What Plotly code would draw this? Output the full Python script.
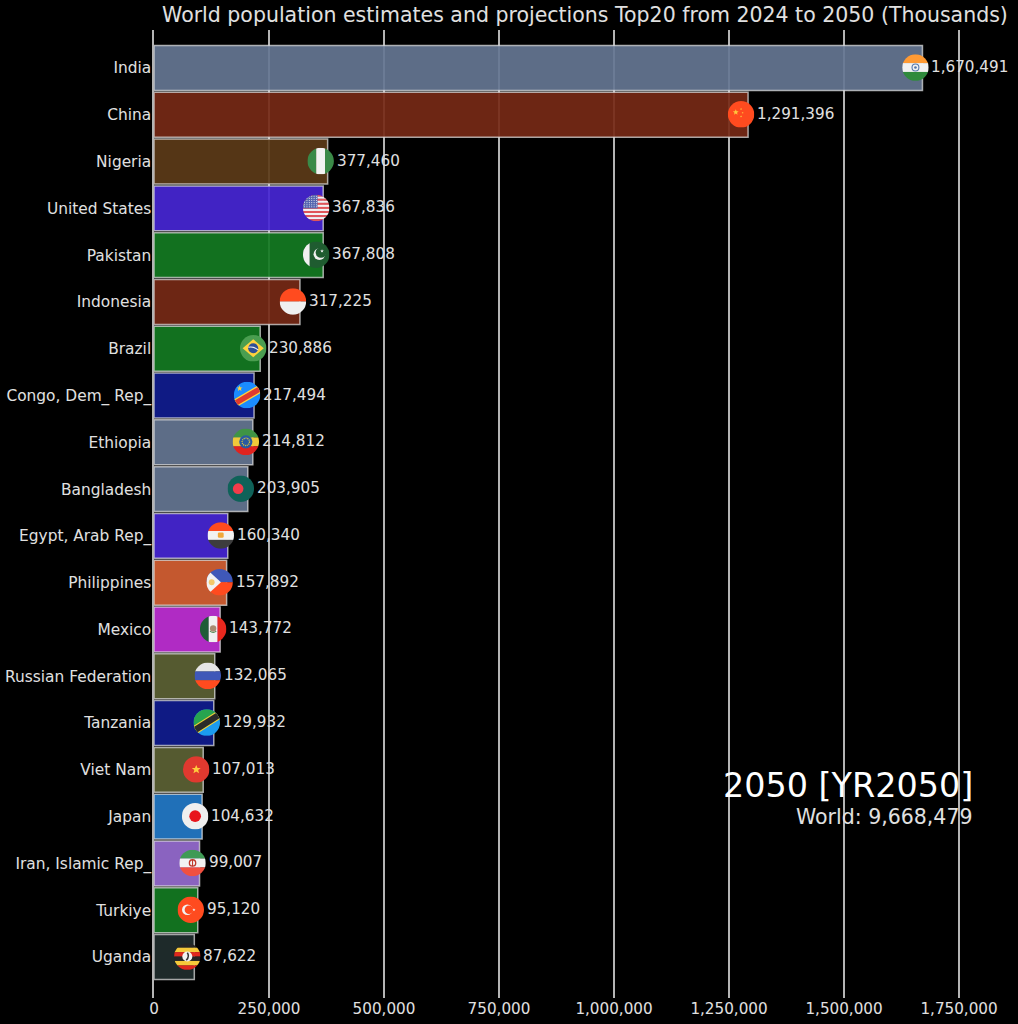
import base64
import plotly.graph_objects as go

countries = ["India", "China", "Nigeria", "United States", "Pakistan", "Indonesia", "Brazil",
             "Congo, Dem_ Rep_", "Ethiopia", "Bangladesh", "Egypt, Arab Rep_", "Philippines",
             "Mexico", "Russian Federation", "Tanzania", "Viet Nam", "Japan",
             "Iran, Islamic Rep_", "Turkiye", "Uganda"]
population = [1670491, 1291396, 377460, 367836, 367808, 317225, 230886, 217494, 214812, 203905,
              160340, 157892, 143772, 132065, 129932, 107013, 104632, 99007, 95120, 87622]
bar_colors = ["#5d6d87", "#6d2614", "#553616", "#4023c4", "#12711f", "#6d2614", "#12711f",
              "#0f1a84", "#5d6d87", "#5d6d87", "#4023c4", "#c4582f", "#b02bc4", "#555a30",
              "#0f1a84", "#555a30", "#2070b8", "#8a62bf", "#12711f", "#1e2a2a"]
x_ticks = [0, 250000, 500000, 750000, 1000000, 1250000, 1500000, 1750000]
chart_title = "World population estimates and projections Top20 from 2024 to 2050 (Thousands)"
period_label = "2050 [YR2050]"
world_label = "World: 9,668,479"

W, H = 1018, 1024
L, R, T, B = 153.5, 0, 30, 26
px_per_unit = 805.5 / 1750000
x_max = (W - L - R) / px_per_unit
PITCH = 46.8
y_lo = -(68 - T) / PITCH
y_hi = 19 + (H - B - 957) / PITCH


def stripes_h(*cols):
    h = 100 / len(cols)
    return "".join(f'<rect x="0" y="{i*h}" width="100" height="{h+0.5}" fill="{c}"/>' for i, c in enumerate(cols))


def stripes_v(*cols):
    w = 100 / len(cols)
    return "".join(f'<rect x="{i*w}" y="0" width="{w+0.5}" height="100" fill="{c}"/>' for i, c in enumerate(cols))


STAR = "M0,-10 L2.9,-3.1 10,-3.1 4.3,1.5 6.2,8.5 0,4.5 -6.2,8.5 -4.3,1.5 -10,-3.1 -2.9,-3.1Z"


def star(x, y, s, c):
    return f'<path transform="translate({x},{y}) scale({s})" d="{STAR}" fill="{c}"/>'


us = stripes_h(*["#e0555a", "#f2f2f2"] * 6 + ["#e0555a"]) + '<rect width="55" height="52" fill="#5566b0"/>'
us += "".join(f'<circle cx="{6+i*9}" cy="{6+j*8}" r="2" fill="#e8e8f0"/>' for i in range(6) for j in range(6))

flags = {
    "India": stripes_h("#ff9a33", "#f2f2f2", "#2f8a3c") + '<circle cx="50" cy="50" r="13" fill="none" stroke="#5577aa" stroke-width="4"/><circle cx="50" cy="50" r="5" fill="#5577aa"/>',
    "China": '<rect width="100" height="100" fill="#ff4b1f"/>' + star(30, 42, 1.1, "#ffc83d") + star(50, 30, .4, "#ffc83d") + star(56, 44, .4, "#ffc83d") + star(50, 58, .4, "#ffc83d"),
    "Nigeria": stripes_v("#3a8a48", "#f2f2f2", "#3a8a48"),
    "United States": us,
    "Pakistan": '<rect width="100" height="100" fill="#1f5c30"/><rect width="25" height="100" fill="#f0f0f0"/><circle cx="62" cy="48" r="22" fill="#f0f0f0"/><circle cx="68" cy="42" r="20" fill="#1f5c30"/>' + star(72, 36, .7, "#f0f0f0"),
    "Indonesia": stripes_h("#ff4b1f", "#f0f0f0"),
    "Brazil": '<rect width="100" height="100" fill="#4a9e50"/><path d="M50,16 L90,50 50,84 10,50Z" fill="#ffd23c"/><circle cx="50" cy="50" r="19" fill="#2f4f96"/><path d="M32,46 Q52,42 68,56" stroke="#f0f0f0" stroke-width="4" fill="none"/>',
    "Congo, Dem_ Rep_": '<rect width="100" height="100" fill="#1b8cff"/><path d="M-10,90 L110,20" stroke="#ffd23c" stroke-width="30"/><path d="M-10,90 L110,20" stroke="#e03a2e" stroke-width="20"/>' + star(22, 25, 1.1, "#ffd23c"),
    "Ethiopia": stripes_h("#3f9445", "#f0c93a", "#e0231f") + '<circle cx="50" cy="50" r="25" fill="#2a5aa0"/><circle cx="50" cy="50" r="14" fill="none" stroke="#e0c83a" stroke-width="5" stroke-dasharray="4 3"/>',
    "Bangladesh": '<rect width="100" height="100" fill="#0f6259"/><circle cx="40" cy="50" r="20" fill="#f03c4a"/>',
    "Egypt, Arab Rep_": stripes_h("#ff4b1f", "#f2f2f2", "#3d3d3d") + '<rect x="39" y="39" width="22" height="20" rx="5" fill="#f0a83a"/>',
    "Philippines": stripes_h("#3f58b8", "#ff4b1f") + '<path d="M0,0 L55,50 0,100Z" fill="#f2f2f2"/><circle cx="20" cy="50" r="11" fill="#f3c86a"/>',
    "Mexico": stripes_v("#1f5c38", "#f0f0f0", "#e8281e") + '<circle cx="50" cy="48" r="12" fill="#a88a70"/><path d="M38,58 Q50,68 62,58" stroke="#4f8a50" stroke-width="4" fill="none"/>',
    "Russian Federation": stripes_h("#e6e6e6", "#3f58b8", "#ff4b1f"),
    "Tanzania": '<rect width="100" height="100" fill="#1b9bef"/><path d="M0,0 L100,0 0,100Z" fill="#27a44f"/><path d="M-5,85 L105,15" stroke="#f0d03a" stroke-width="32"/><path d="M-5,85 L105,15" stroke="#2a2a2a" stroke-width="24"/>',
    "Viet Nam": '<rect width="100" height="100" fill="#e0392f"/>' + star(50, 50, 1.7, "#ffcb3d"),
    "Japan": '<rect width="100" height="100" fill="#efefef"/><circle cx="50" cy="50" r="22" fill="#e8141c"/>',
    "Iran, Islamic Rep_": stripes_h("#3f9a55", "#f2f2f2", "#f05040") + '<circle cx="50" cy="50" r="12" fill="none" stroke="#c0392b" stroke-width="5"/><path d="M50,38 V62" stroke="#c0392b" stroke-width="4"/>',
    "Turkiye": '<rect width="100" height="100" fill="#ff4b1f"/><circle cx="37" cy="50" r="20" fill="#f2f2f2"/><circle cx="43" cy="50" r="16" fill="#ff4b1f"/>' + star(62, 50, .6, "#f2f2f2"),
    "Uganda": stripes_h("#252525", "#f5c93a", "#e0281e", "#252525", "#f5c93a", "#e0281e") + '<circle cx="50" cy="50" r="19" fill="#f2f2f2"/><path d="M50,36 Q60,50 46,64" stroke="#333" stroke-width="6" fill="none"/>',
}


def flag_uri(name):
    svg = ('<svg xmlns="http://www.w3.org/2000/svg" width="100" height="100" viewBox="0 0 100 100">'
           '<defs><clipPath id="c"><circle cx="50" cy="50" r="50"/></clipPath></defs>'
           f'<g clip-path="url(#c)">{flags[name]}</g></svg>')
    return "data:image/svg+xml;base64," + base64.b64encode(svg.encode()).decode()


def with_alpha(hex_col, a=0.92):
    r, g, b = (int(hex_col[i:i + 2], 16) for i in (1, 3, 5))
    return f"rgba({min(255, round(r / a))},{min(255, round(g / a))},{min(255, round(b / a))},{a})"


positions = list(range(len(countries)))
fig = go.Figure(go.Bar(
    x=population, y=positions, orientation="h", width=0.96,
    marker=dict(color=[with_alpha(c) for c in bar_colors],
                line=dict(color="rgba(225,225,225,0.72)", width=1.5)),
    hoverinfo="x+y", showlegend=False,
))

flag_dx = 7 / px_per_unit
images = [dict(source=flag_uri(n), xref="x", yref="y", x=v - flag_dx, y=i - 0.01,
               sizex=26.5 / px_per_unit, sizey=26.5 / PITCH, xanchor="center", yanchor="middle",
               sizing="stretch", layer="above")
          for i, (n, v) in enumerate(zip(countries, population))]

annotations = [dict(x=v, y=i, xref="x", yref="y", text=f"{v:,}", showarrow=False, xanchor="left",
                    xshift=7, yshift=1, font=dict(family="DejaVu Sans", size=15.2, color="#e0e0e0"))
               for i, v in enumerate(population)]
annotations += [
    dict(xref="paper", yref="paper", x=(975 - L) / (W - L), y=(H - B - 785) / (H - B - T), text=period_label,
         showarrow=False, xanchor="right", yanchor="middle",
         font=dict(family="DejaVu Sans", size=33.4, color="#ffffff")),
    dict(xref="paper", yref="paper", x=(975 - L) / (W - L), y=(H - B - 817) / (H - B - T), text=world_label,
         showarrow=False, xanchor="right", yanchor="middle",
         font=dict(family="DejaVu Sans", size=20.5, color="#e0e0e0")),
]

fig.update_layout(
    width=W, height=H, margin=dict(l=L, r=R, t=T, b=B, pad=0),
    paper_bgcolor="#000000", plot_bgcolor="#000000",
    font=dict(family="DejaVu Sans", size=15, color="#e0e0e0"),
    title=dict(text=chart_title, x=0.4988, xref="paper", xanchor="center", y=1 - 15 / H, yanchor="middle",
               font=dict(family="DejaVu Sans", size=20.5, color="#e0e0e0")),
    xaxis=dict(range=[0, x_max], tickvals=x_ticks, ticktext=[f"{t:,}" for t in x_ticks],
               showgrid=True, gridcolor="rgba(225,225,225,0.8)", gridwidth=1.5, zeroline=False,
               showline=False, ticks="", tickfont=dict(size=15.2, color="#e0e0e0")),
    yaxis=dict(range=[y_hi, y_lo], tickvals=positions, ticktext=countries, showgrid=False,
               zeroline=False, showline=True, linecolor="rgba(225,225,225,0.8)", linewidth=1.5, ticks="",
               ticklabelstandoff=-2, tickfont=dict(size=15.4, color="#e0e0e0")),
    images=images, annotations=annotations,
)

fig.write_html("out.html", post_script="document.body.style.margin='0';", config=dict(displayModeBar=False))
